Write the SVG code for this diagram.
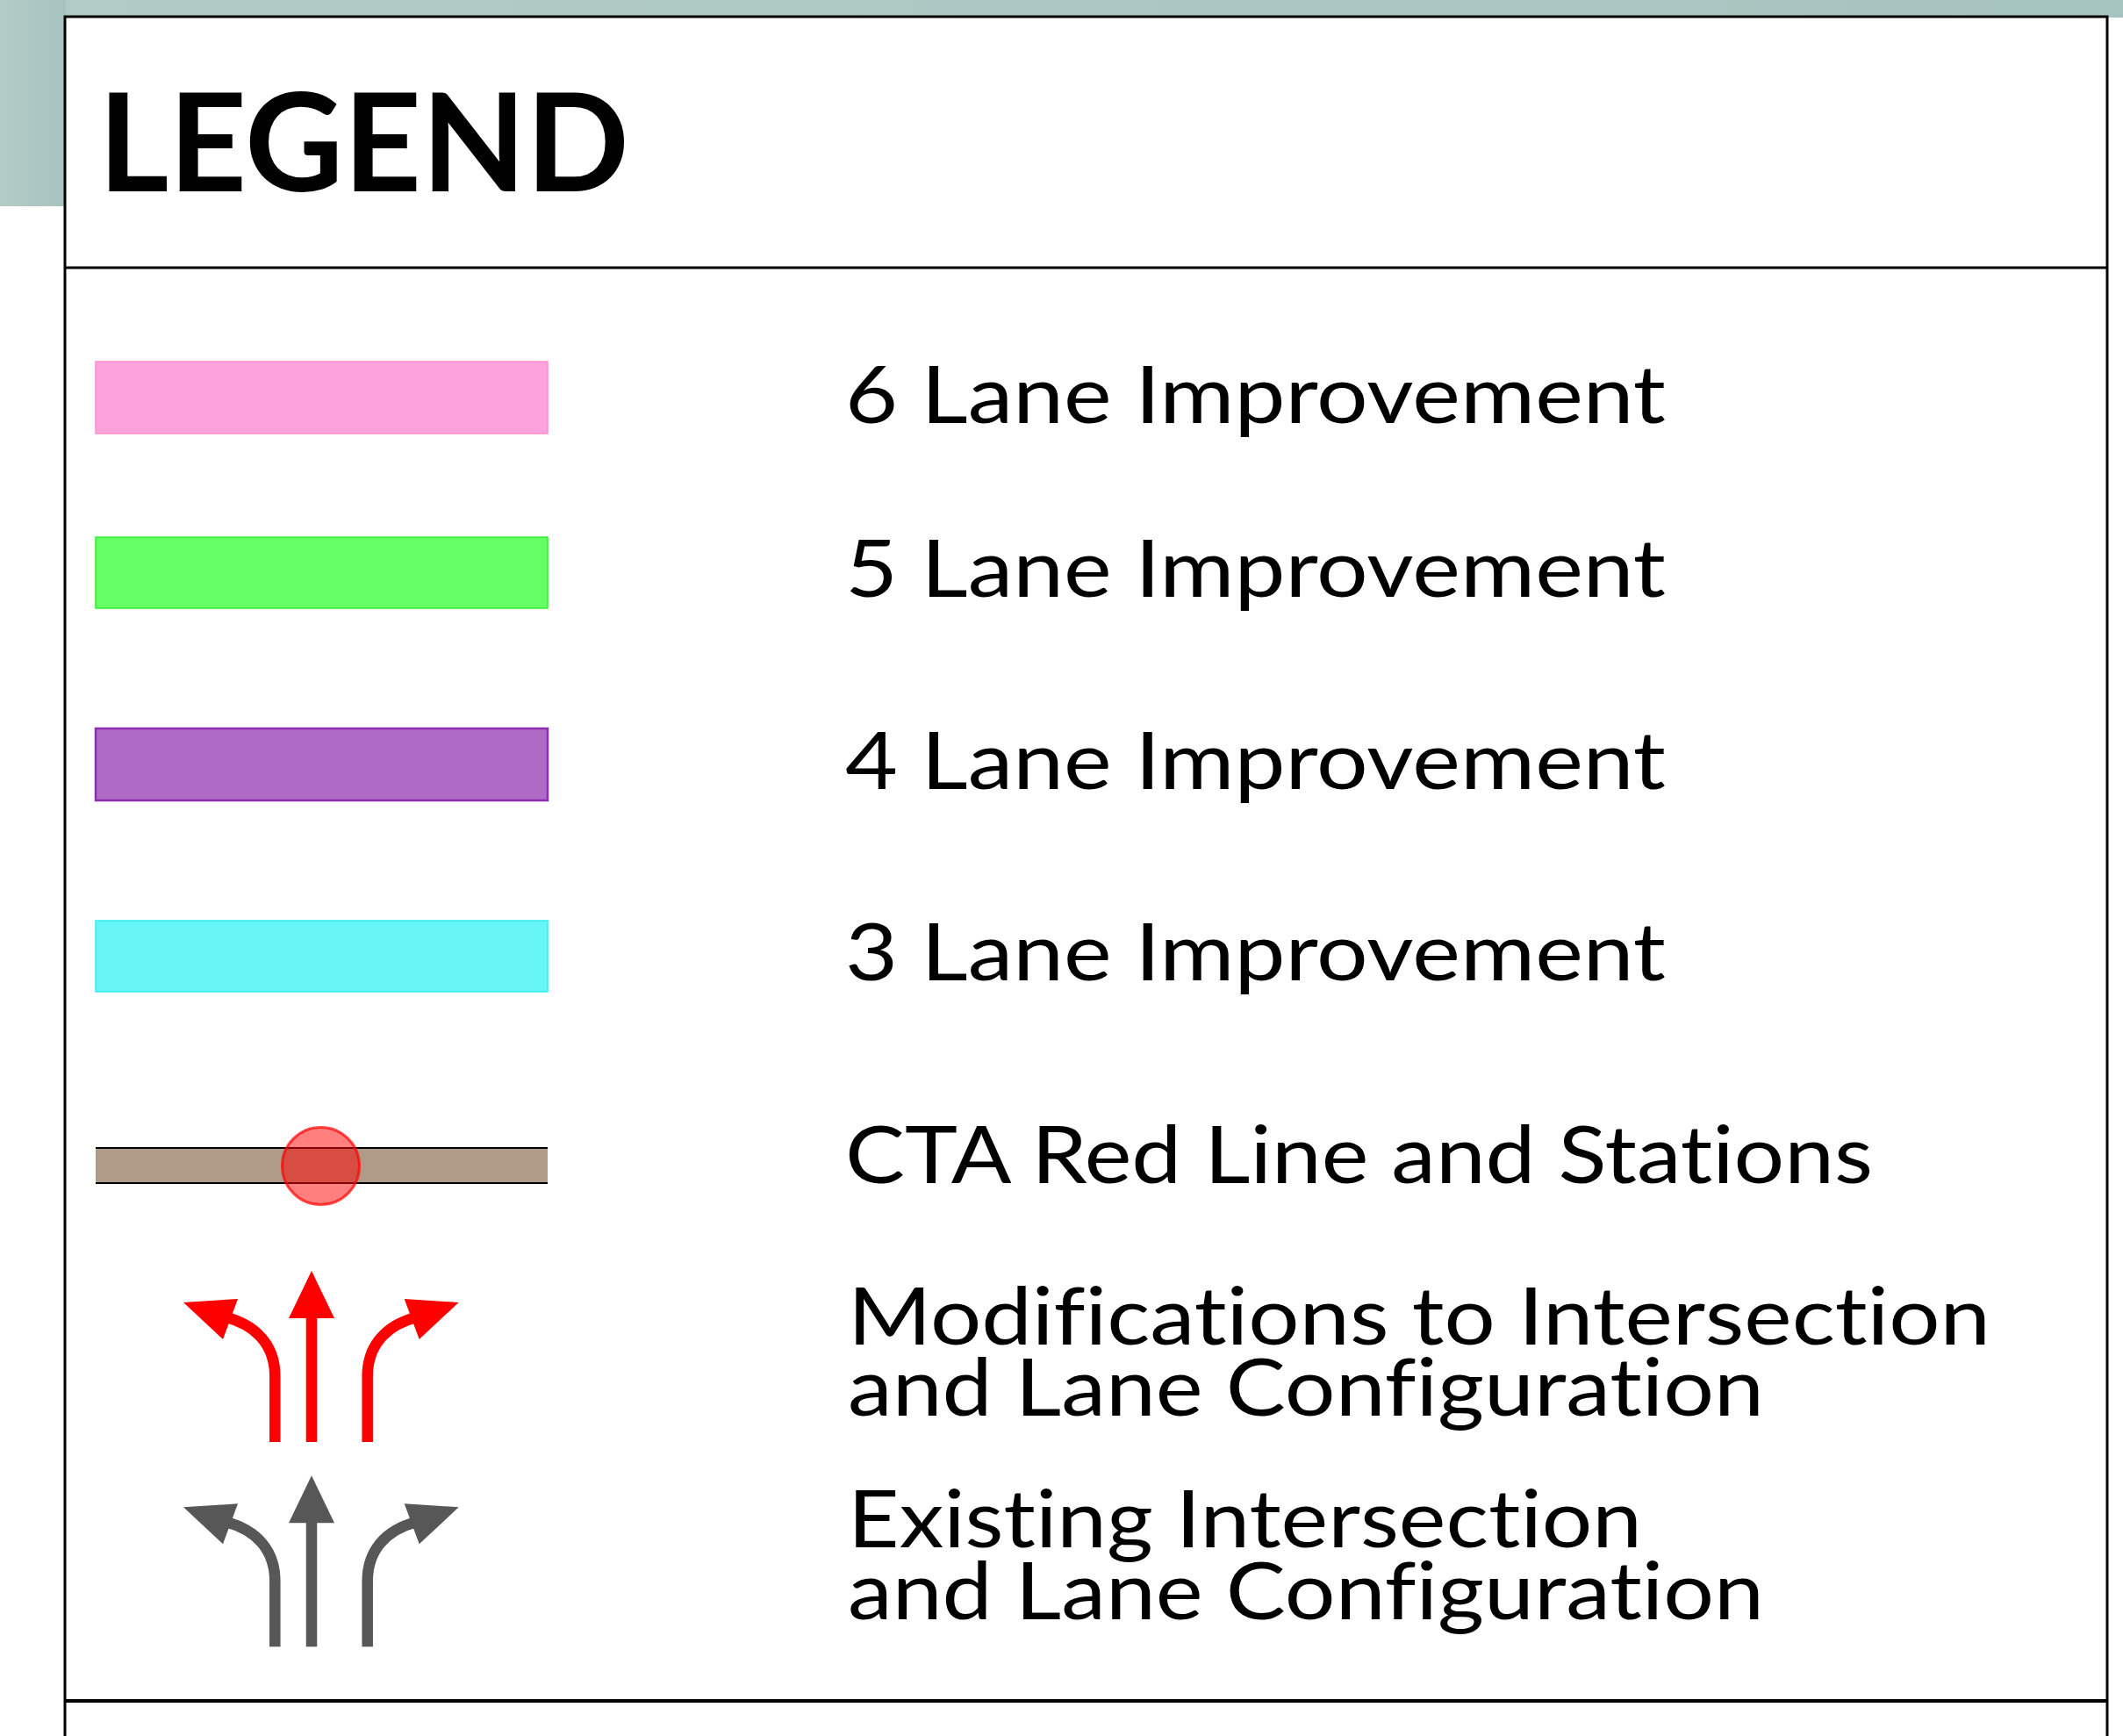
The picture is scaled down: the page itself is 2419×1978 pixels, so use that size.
<svg xmlns="http://www.w3.org/2000/svg" xmlns:xlink="http://www.w3.org/1999/xlink" width="2419" height="1978" viewBox="0 0 2419 1978">
<style>
.lbl{font-family:Lato,"Liberation Sans","Noto Sans",sans-serif;font-size:92px;fill:#000;font-variant-ligatures:none;font-feature-settings:"liga" 0,"clig" 0}
.title{font-family:Lato,"Liberation Sans","Noto Sans",sans-serif;font-size:155px;font-weight:700;fill:#000}
.border{stroke:#000;stroke-width:3;fill:none}
.shaft{fill:none;stroke:currentColor;stroke-width:12.5}
.head{fill:currentColor;stroke:none}
</style>
<defs>
<linearGradient id="bg" x1="0" y1="0" x2="1" y2="0">
<stop offset="0" stop-color="#B3CBC7"/>
<stop offset="1" stop-color="#A6C4BF"/>
</linearGradient>
<g id="turnArrows">
<path class="shaft" d="M313.3,1643 V1568 C313.3,1533 292,1510 258,1501"/>
<polygon class="head" points="209,1484 271,1480 254,1526"/>
<path class="shaft" d="M355,1643 V1500"/>
<polygon class="head" points="355,1448 329,1502 381,1502"/>
<path class="shaft" d="M418.7,1643 V1568 C418.7,1533 440,1510 474,1501"/>
<polygon class="head" points="522.7,1484 460.7,1480 477.7,1526"/>
</g>
</defs>
<rect width="2419" height="1978" fill="#fff"/>
<g id="background">
<rect x="0" y="0" width="2419" height="20" fill="url(#bg)"/>
<rect x="0" y="0" width="75" height="235" fill="url(#bg)"/>
</g>
<g id="frame">
<rect x="74" y="19" width="2327" height="1970" fill="#fff" class="border"/>
<line x1="74" y1="305" x2="2401" y2="305" class="border"/>
<line x1="74" y1="1938" x2="2401" y2="1938" stroke="#000" stroke-width="4"/>
</g>
<g id="title">
<text class="title" x="112" y="218" textLength="605" lengthAdjust="spacingAndGlyphs">LEGEND</text>
</g>
<g id="item-6lane">
<rect x="109" y="412" width="515" height="82" fill="#FCA3DC" stroke="#FF8CD2" stroke-width="1.5"/>
<text class="lbl" x="963" y="482" textLength="935" lengthAdjust="spacingAndGlyphs">6 Lane Improvement</text>
</g>
<g id="item-5lane">
<rect x="109" y="612" width="515" height="81" fill="#66FF66" stroke="#33EE33" stroke-width="1.5"/>
<text class="lbl" x="963" y="680" textLength="935" lengthAdjust="spacingAndGlyphs">5 Lane Improvement</text>
</g>
<g id="item-4lane">
<rect x="109" y="830" width="515" height="82" fill="#AF6AC5" stroke="#8E2FB0" stroke-width="2.5"/>
<text class="lbl" x="963" y="899" textLength="935" lengthAdjust="spacingAndGlyphs">4 Lane Improvement</text>
</g>
<g id="item-3lane">
<rect x="109" y="1049" width="515" height="81" fill="#67F6F5" stroke="#33EEEE" stroke-width="1.5"/>
<text class="lbl" x="963" y="1117" textLength="935" lengthAdjust="spacingAndGlyphs">3 Lane Improvement</text>
</g>
<g id="item-cta">
<rect x="109" y="1308" width="515" height="40" fill="#AF9B87"/>
<line x1="109" y1="1308" x2="624" y2="1308" stroke="#000" stroke-width="2"/>
<line x1="109" y1="1348" x2="624" y2="1348" stroke="#000" stroke-width="2"/>
<circle cx="365.5" cy="1328.5" r="44" fill="#FF0000" fill-opacity="0.5" stroke="#FF0000" stroke-opacity="0.7" stroke-width="3"/>
<text class="lbl" x="963" y="1348" textLength="1171" lengthAdjust="spacingAndGlyphs">CTA Red Line and Stations</text>
</g>
<g id="item-modified" style="color:#FF0000">
<use xlink:href="#turnArrows"/>
<text class="lbl" x="966" y="1532" textLength="1302" lengthAdjust="spacingAndGlyphs">Modifications to Intersection</text>
<text class="lbl" x="966" y="1613" textLength="1044" lengthAdjust="spacingAndGlyphs">and Lane Configuration</text>
</g>
<g id="item-existing" style="color:#575757">
<use xlink:href="#turnArrows" transform="translate(0,233.3)"/>
<text class="lbl" x="966" y="1763" textLength="905" lengthAdjust="spacingAndGlyphs">Existing Intersection</text>
<text class="lbl" x="966" y="1845" textLength="1044" lengthAdjust="spacingAndGlyphs">and Lane Configuration</text>
</g>
<g id="connectors"/>
</svg>
